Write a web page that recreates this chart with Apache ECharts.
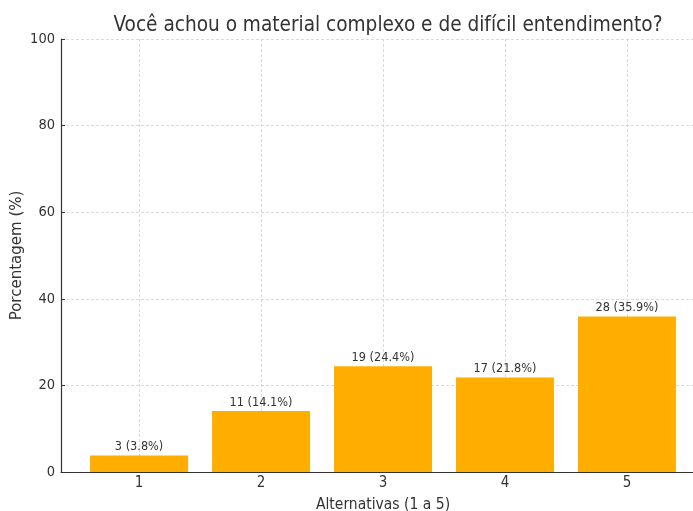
<!DOCTYPE html>
<html>
<head>
<meta charset="utf-8">
<script src="https://cdn.jsdelivr.net/npm/echarts@6/dist/echarts.min.js"></script>
<style>
  html, body { margin: 0; padding: 0; background: #fff; }
  #chart { width: 693px; height: 511px; }
</style>
</head>
<body>
<div id="chart"></div>
<script>
// 数据
const alternativas = [1, 2, 3, 4, 5]
const contagens = [3, 11, 19, 17, 28]
const porcentagens = [3.8, 14.1, 24.4, 21.8, 35.9]

const FONT = "'DejaVu Sans Condensed', 'Liberation Sans Narrow', 'DejaVu Sans', sans-serif"

const chart = echarts.init(document.getElementById('chart'))

const option = {
  backgroundColor: '#fff',
  animation: false,
  title: {
    text: 'Você achou o material complexo e de difícil entendimento?',
    left: 383,
    textAlign: 'center',
    top: 10,
    textStyle: {
      fontFamily: FONT,
      fontSize: 20.6,
      fontWeight: 'normal',
      color: '#333',
    },
  },
  grid: {
    left: 61,
    top: 39,
    width: 644,
    height: 433,
    containLabel: false,
    outerBoundsMode: 'none',
  },
  xAxis: {
    type: 'value',
    min: 0.36,
    max: 5.64,
    name: 'Alternativas (1 a 5)',
    nameLocation: 'middle',
    nameGap: 25,
    nameMoveOverlap: false,
    nameTextStyle: { fontFamily: FONT, fontSize: 15.5, color: '#333' },
    axisLine: { show: true, lineStyle: { color: '#333', width: 1.2 } },
    axisTick: {
      show: true,
      inside: true,
      length: 4,
      customValues: alternativas,
      lineStyle: { color: '#333' },
    },
    axisLabel: {
      customValues: alternativas,
      fontFamily: FONT,
      fontSize: 15,
      color: '#333',
      margin: 4,
    },
    splitLine: {
      show: true,
      lineStyle: { color: '#d0d0d0', type: [3, 2], width: 0.8 },
    },
  },
  yAxis: {
    type: 'value',
    min: 0,
    max: 100,
    interval: 20,
    name: 'Porcentagem (%)',
    nameLocation: 'middle',
    nameGap: 36,
    nameMoveOverlap: false,
    nameTextStyle: { fontFamily: "'DejaVu Sans', sans-serif", fontSize: 15, color: '#333' },
    axisLine: { show: true, lineStyle: { color: '#333', width: 1.2 } },
    axisTick: { show: true, inside: true, length: 4, lineStyle: { color: '#333' } },
    axisLabel: {
      fontFamily: FONT,
      fontSize: 14.5,
      color: '#333',
      margin: 6,
    },
    splitLine: {
      show: true,
      lineStyle: { color: '#d0d0d0', type: [3, 2], width: 0.8 },
    },
  },
  series: [
    {
      type: 'bar',
      barWidth: 98,
      itemStyle: { color: '#ffae00' },
      label: {
        show: true,
        position: 'top',
        distance: 2,
        fontFamily: FONT,
        fontSize: 12.6,
        color: '#333',
        formatter: (p) => contagens[p.dataIndex] + ' (' + porcentagens[p.dataIndex].toFixed(1) + '%)',
      },
      data: alternativas.map((a, i) => [a, porcentagens[i]]),
    },
  ],
}

chart.setOption(option)
</script>
</body>
</html>
